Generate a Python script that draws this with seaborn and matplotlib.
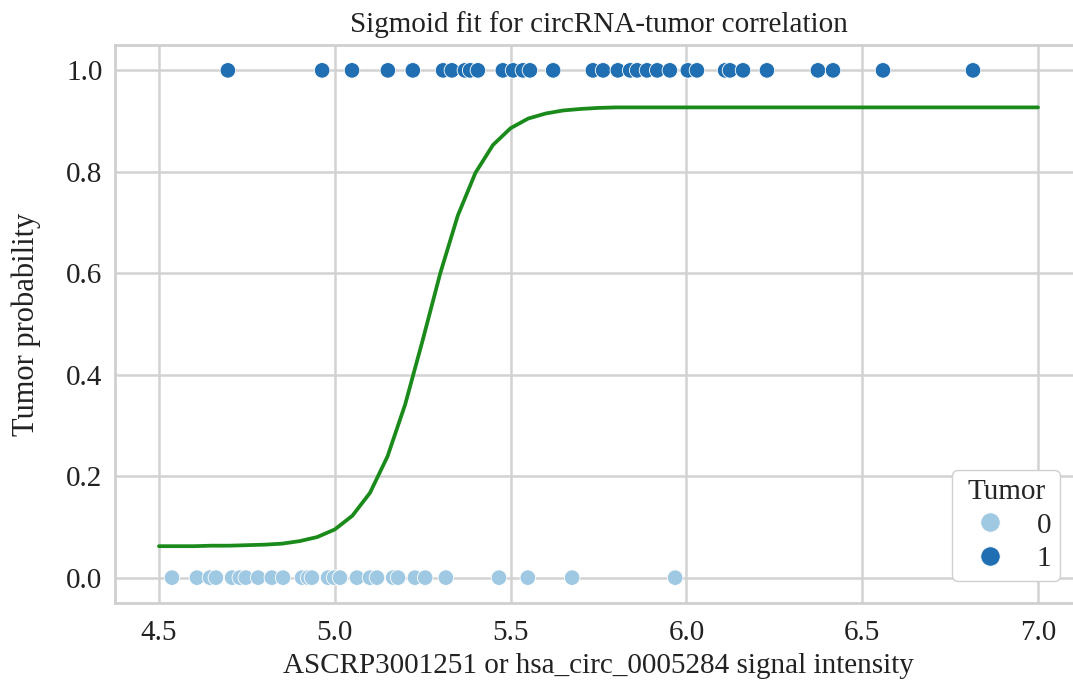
import matplotlib
matplotlib.use("Agg")
import matplotlib.pyplot as plt
import numpy as np
import pandas as pd
import seaborn as sns

# Signal intensities for tumor (1) and non-tumor (0) samples
signal_tumor = [4.696, 4.964, 5.049, 5.151, 5.222, 5.308, 5.333, 5.370, 5.385,
                5.407, 5.478, 5.507, 5.535, 5.555, 5.621, 5.734, 5.763, 5.805,
                5.840, 5.860, 5.888, 5.917, 5.953, 6.004, 6.030, 6.110, 6.124,
                6.161, 6.229, 6.374, 6.417, 6.559, 6.815]
signal_normal = [4.537, 4.608, 4.645, 4.662, 4.708, 4.730, 4.747, 4.782, 4.821,
                 4.853, 4.907, 4.924, 4.935, 4.981, 4.998, 5.015, 5.063, 5.100,
                 5.120, 5.166, 5.180, 5.228, 5.257, 5.316, 5.467, 5.549, 5.675,
                 5.968]

# Fitted sigmoid curve, sampled every 0.05
curve_x = [4.50, 4.55, 4.60, 4.65, 4.70, 4.75, 4.80, 4.85, 4.90, 4.95,
           5.00, 5.05, 5.10, 5.15, 5.20, 5.25, 5.30, 5.35, 5.40, 5.45,
           5.50, 5.55, 5.60, 5.65, 5.70, 5.75, 5.80, 5.85, 5.90, 5.95,
           6.00, 6.05, 6.10, 6.15, 6.20, 6.25, 6.30, 6.35, 6.40, 6.45,
           6.50, 6.55, 6.60, 6.65, 6.70, 6.75, 6.80, 6.85, 6.90, 6.95, 7.00]
curve_y = [0.062, 0.062, 0.062, 0.063, 0.063, 0.064, 0.065, 0.067, 0.072, 0.080,
           0.095, 0.122, 0.167, 0.239, 0.341, 0.468, 0.600, 0.714, 0.798, 0.853,
           0.886, 0.905, 0.915, 0.921, 0.924, 0.926, 0.927, 0.927, 0.927, 0.927,
           0.927, 0.927, 0.927, 0.927, 0.927, 0.927, 0.927, 0.927, 0.927, 0.927,
           0.927, 0.927, 0.927, 0.927, 0.927, 0.927, 0.927, 0.927, 0.927, 0.927, 0.927]

x_ticks = [4.5, 5.0, 5.5, 6.0, 6.5, 7.0]
y_ticks = [0.0, 0.2, 0.4, 0.6, 0.8, 1.0]

df = pd.DataFrame({
    "signal": signal_normal + signal_tumor,
    "Tumor": ["0"] * len(signal_normal) + ["1"] * len(signal_tumor),
})
df["prob"] = df["Tumor"].astype(int)

sns.set_theme(style="whitegrid")
plt.rcParams["font.family"] = ["Liberation Serif", "DejaVu Serif"]
plt.rcParams["axes.edgecolor"] = "#cfcfcf"
plt.rcParams["grid.color"] = "#d2d2d2"

fig = plt.figure(figsize=(10.73, 6.83), dpi=100)
ax = fig.add_axes([115 / 1073, 80 / 683, (1082 - 115) / 1073, (603 - 45) / 683])

palette = {"0": "#9fc9e2", "1": "#1f6fb2"}
sns.scatterplot(data=df, x="signal", y="prob", hue="Tumor", hue_order=["0", "1"],
                palette=palette, s=125, edgecolor="white", linewidth=0.6,
                ax=ax, zorder=3)
sns.lineplot(x=curve_x, y=curve_y, color="#1a8a1a", linewidth=2.7, ax=ax,
             zorder=4)

ax.set_xlim(4.375, 7.125)
ax.set_ylim(-0.05, 1.05)
ax.set_xticks(x_ticks)
ax.set_yticks(y_ticks)
ax.set_xticklabels([f"{v:.1f}" for v in x_ticks])
ax.set_yticklabels([f"{v:.1f}" for v in y_ticks])
ax.tick_params(axis="both", labelsize=21, colors="#222222")
ax.tick_params(axis="y", pad=3)
ax.tick_params(axis="x", pad=6)
for sp in ax.spines.values():
    sp.set_linewidth(2.0)
ax.grid(True, linewidth=1.8)

ax.set_title("Sigmoid fit for circRNA-tumor correlation", fontsize=21,
             pad=9, color="#222222")
ax.set_xlabel("ASCRP3001251 or hsa_circ_0005284 signal intensity", fontsize=21,
              color="#222222", labelpad=5)
ax.set_ylabel("Tumor probability", fontsize=22, color="#222222", labelpad=18)

leg = ax.legend(title="Tumor", loc="lower right", fontsize=21,
                title_fontsize=21, frameon=True, markerscale=1.25,
                borderaxespad=0.75, labelspacing=0.25, borderpad=0.3,
                handletextpad=0.6)
leg.get_frame().set_edgecolor("#d0d0d0")
leg.get_frame().set_facecolor("white")
leg.get_frame().set_alpha(1.0)

fig.savefig("out.png", dpi=100)
